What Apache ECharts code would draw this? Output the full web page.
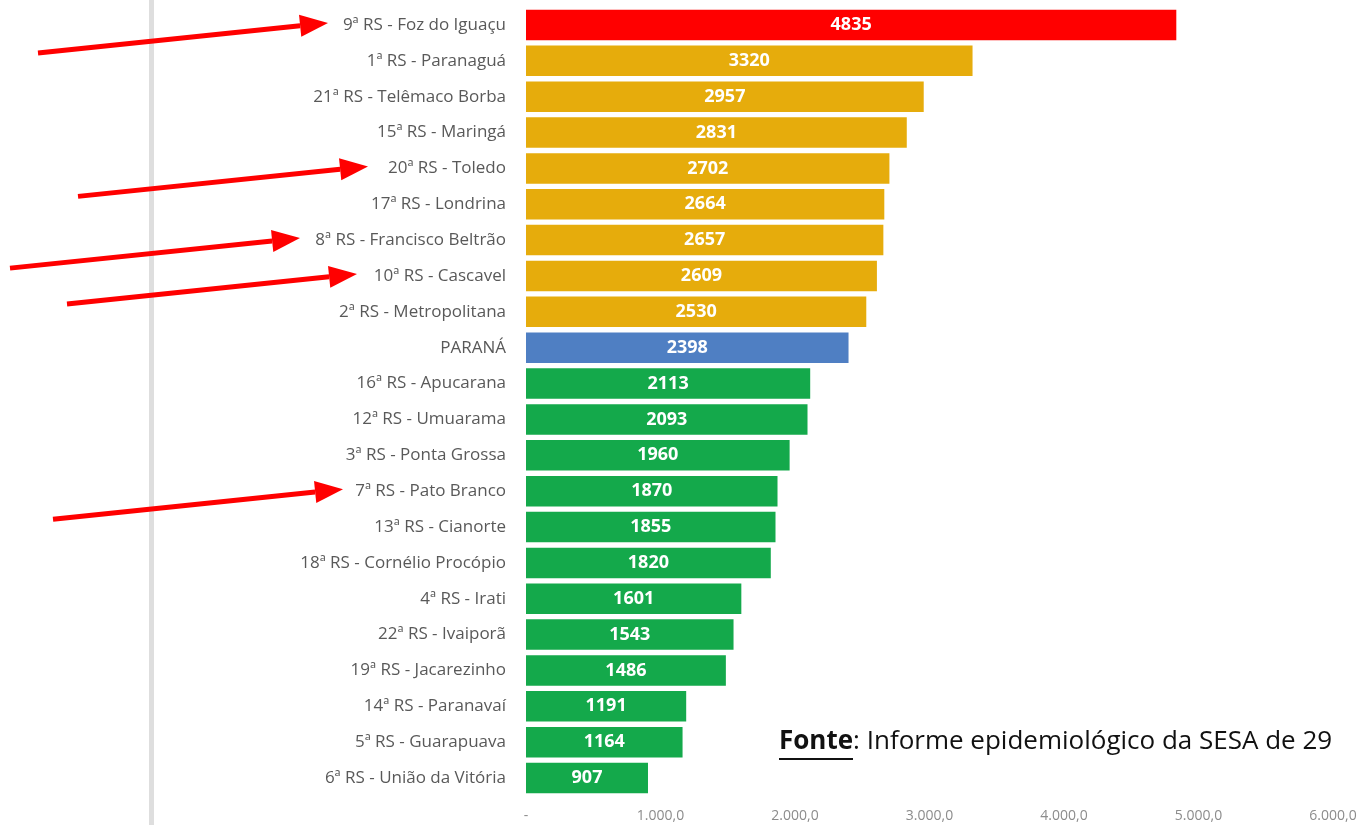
<!DOCTYPE html>
<html>
<head>
<meta charset="utf-8">
<script src="https://cdn.jsdelivr.net/npm/echarts@6/dist/echarts.min.js"></script>
<style>
  html, body { margin: 0; padding: 0; background: #fff; }
  #main { width: 1363px; height: 825px; }
</style>
</head>
<body>
<div id="main"></div>
<script>
// regionais de saúde, de cima para baixo
var regioes = [
  '9ª RS - Foz do Iguaçu', '1ª RS - Paranaguá', '21ª RS - Telêmaco Borba', '15ª RS - Maringá',
  '20ª RS - Toledo', '17ª RS - Londrina', '8ª RS - Francisco Beltrão', '10ª RS - Cascavel',
  '2ª RS - Metropolitana', 'PARANÁ', '16ª RS - Apucarana', '12ª RS - Umuarama',
  '3ª RS - Ponta Grossa', '7ª RS - Pato Branco', '13ª RS - Cianorte', '18ª RS - Cornélio Procópio',
  '4ª RS - Irati', '22ª RS - Ivaiporã', '19ª RS - Jacarezinho', '14ª RS - Paranavaí',
  '5ª RS - Guarapuava', '6ª RS - União da Vitória'
];
var valores = [
  4835, 3320, 2957, 2831, 2702, 2664, 2657, 2609, 2530, 2398, 2113,
  2093, 1960, 1870, 1855, 1820, 1601, 1543, 1486, 1191, 1164, 907
];
// faixa de cor de cada barra
var faixas = [
  'alto', 'medio', 'medio', 'medio', 'medio', 'medio', 'medio', 'medio', 'medio', 'estado', 'baixo',
  'baixo', 'baixo', 'baixo', 'baixo', 'baixo', 'baixo', 'baixo', 'baixo', 'baixo', 'baixo', 'baixo'
];
var coresFaixa = { alto: '#ff0000', medio: '#e6ac0c', estado: '#4f7fc3', baixo: '#14a94b' };
var ticksX = [0, 1000, 2000, 3000, 4000, 5000, 6000];

// regionais marcadas com seta, e onde fica a ponta da seta
var setasRegiao = ['9ª RS - Foz do Iguaçu', '20ª RS - Toledo', '8ª RS - Francisco Beltrão', '10ª RS - Cascavel', '7ª RS - Pato Branco'];
var setasPonta = [328, 368, 300, 357, 343];

var myChart = echarts.init(document.getElementById('main'));

function fmtEixo(v) {
  if (v === 0) return '-';
  var s = String(Math.round(v)).replace(/\B(?=(\d{3})+(?!\d))/g, '.');
  return s + ',0';
}

var option = {
  animation: false,
  grid: { left: 526, right: 30, top: 7, bottom: 29, containLabel: false },
  xAxis: {
    type: 'value',
    min: ticksX[0],
    max: ticksX[ticksX.length - 1],
    interval: 1000,
    axisLine: { show: false },
    axisTick: { show: false },
    splitLine: { show: false },
    axisLabel: {
      formatter: fmtEixo,
      color: '#8c8c8c',
      fontFamily: 'Open Sans',
      fontSize: 14,
      margin: 13
    }
  },
  yAxis: {
    type: 'category',
    inverse: true,
    data: regioes,
    axisLine: { show: false },
    axisTick: { show: false },
    axisLabel: {
      color: '#595959',
      fontFamily: 'Open Sans',
      fontSize: 17,
      margin: 20
    }
  },
  series: [{
    type: 'bar',
    barCategoryGap: '15%',
    data: valores.map(function (v, i) {
      return { value: v, itemStyle: { color: coresFaixa[faixas[i]] } };
    }),
    label: {
      show: true,
      position: 'inside',
      color: '#fff',
      fontFamily: 'Open Sans',
      fontWeight: 'bold',
      fontSize: 18
    }
  }]
};
myChart.setOption(option);

// anotações: barra cinza à esquerda, setas vermelhas e a fonte
var graficos = [
  { type: 'rect', shape: { x: 149, y: 0, width: 5, height: 825 }, style: { fill: '#dedede' } }
];
setasRegiao.forEach(function (nome, i) {
  var yc = myChart.convertToPixel({ yAxisIndex: 0 }, nome);
  var x2 = setasPonta[i], y2 = yc - 2;
  var x1 = x2 - 290, y1 = yc + 28;
  var ang = Math.atan2(y2 - y1, x2 - x1);
  var L = 28, W = 11;
  var bx = x2 - L * Math.cos(ang), by = y2 - L * Math.sin(ang);
  var nx = -Math.sin(ang), ny = Math.cos(ang);
  graficos.push({
    type: 'line',
    shape: { x1: x1, y1: y1, x2: bx, y2: by },
    style: { stroke: '#ff0000', lineWidth: 5 }
  });
  graficos.push({
    type: 'polygon',
    shape: { points: [[x2, y2], [bx + nx * W, by + ny * W], [bx - nx * W, by - ny * W]] },
    style: { fill: '#ff0000' }
  });
});
graficos.push({
  type: 'text',
  left: 779, top: 729,
  style: {
    text: '{b|Fonte}: Informe epidemiológico da SESA de 29',
    fontFamily: 'Open Sans',
    fontSize: 26,
    fill: '#111',
    rich: { b: { fontWeight: 'bold', fontFamily: 'Open Sans', fontSize: 26, fill: '#111' } }
  }
});
graficos.push({
  type: 'rect',
  shape: { x: 779, y: 758, width: 74, height: 2 },
  style: { fill: '#111' }
});
myChart.setOption({ graphic: graficos });
</script>
</body>
</html>
